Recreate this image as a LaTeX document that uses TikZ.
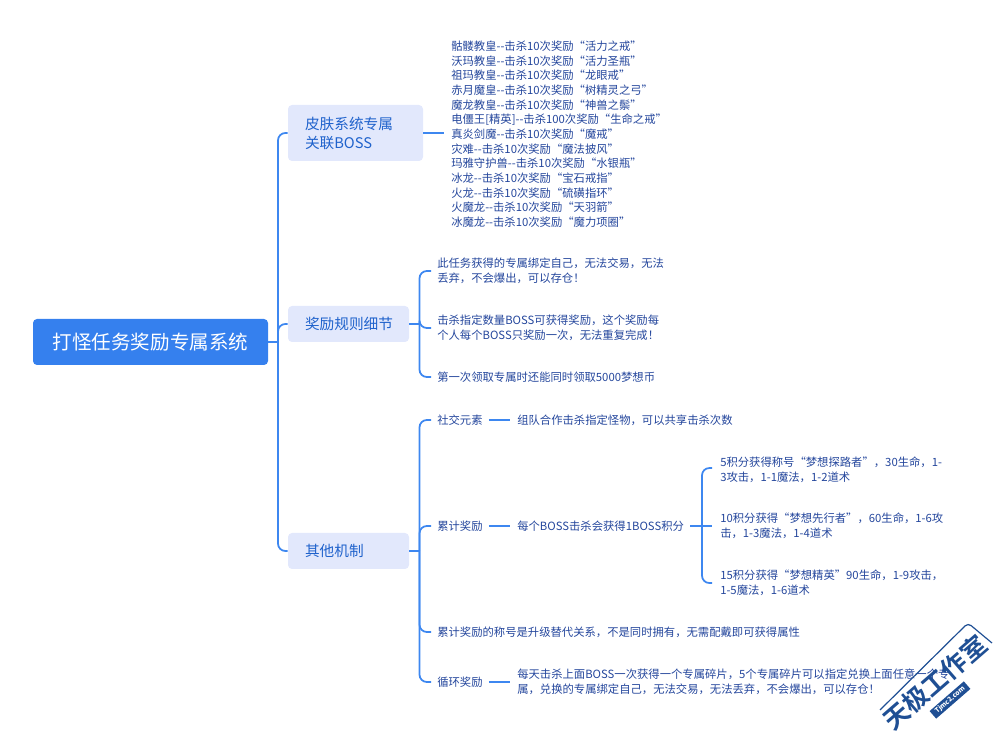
\documentclass[tikz,border=0pt]{standalone}
\usepackage{fontspec}
\setmainfont{Noto Sans CJK SC}
\newfontfamily\wmfont{Noto Sans CJK SC}[BoldFont={Noto Sans CJK SC Bold}]
\definecolor{linec}{HTML}{3D87F0}
\definecolor{rootc}{HTML}{3580EE}
\definecolor{subc}{HTML}{E2E8FC}
\definecolor{subt}{HTML}{1F62CC}
\definecolor{leaft}{HTML}{24469C}
\definecolor{wmc}{HTML}{1F4F94}
\tikzset{
  x=0.75pt,y=-0.75pt,
  conn/.style={draw=linec,line width=1.3pt,rounded corners=5.5pt},
  rootbox/.style={fill=rootc,rounded corners=3pt,text=white,font=\fontsize{14.65}{18}\selectfont,minimum width=176.25pt,minimum height=34.5pt,inner sep=0pt},
  subbox/.style={fill=subc,rounded corners=3pt,text=subt,font=\fontsize{11}{14.25}\selectfont,inner xsep=12.75pt,inner ysep=0pt,minimum height=27pt,align=left},
  leaf/.style={anchor=west,inner sep=0pt,text=leaft,align=left,font=\fontsize{8.5}{11}\selectfont},
}
\begin{document}
\begin{tikzpicture}
\useasboundingbox (0,0) rectangle (1004,741);
% main nodes
\node[rootbox] (root) at (150.5,342) {打怪任务奖励专属系统};
\node[subbox,text width=75.75pt,minimum height=42pt] (skin) at (355.5,133) {皮肤系统专属\\关联BOSS};
\node[subbox,text width=65.25pt] (rule) at (348.5,324) {奖励规则细节};
\node[subbox,text width=65.25pt] (other) at (348.5,551) {其他机制};
% leaves
\node[leaf] (list) at (451,134.2) {骷髅教皇-{}-击杀10次奖励“活力之戒”\\沃玛教皇-{}-击杀10次奖励“活力圣瓶”\\祖玛教皇-{}-击杀10次奖励“龙眼戒”\\赤月魔皇-{}-击杀10次奖励“树精灵之弓”\\魔龙教皇-{}-击杀10次奖励“神兽之鬃”\\电僵王[精英]-{}-击杀100次奖励“生命之戒”\\真炎剑魔-{}-击杀10次奖励“魔戒”\\灾难-{}-击杀10次奖励“魔法披风”\\玛雅守护兽-{}-击杀10次奖励“水银瓶”\\冰龙-{}-击杀10次奖励“宝石戒指”\\火龙-{}-击杀10次奖励“硫磺指环”\\火魔龙-{}-击杀10次奖励“天羽箭”\\冰魔龙-{}-击杀10次奖励“魔力项圈”};
\node[leaf] (r1) at (437,271) {此任务获得的专属绑定自己，无法交易，无法\\丢弃，不会爆出，可以存仓！};
\node[leaf] (r2) at (437,328) {击杀指定数量BOSS可获得奖励，这个奖励每\\个人每个BOSS只奖励一次，无法重复完成！};
\node[leaf] (r3) at (437,377) {第一次领取专属时还能同时领取5000梦想币};
\node[leaf] (o1) at (437,420) {社交元素};
\node[leaf] (o1a) at (517,420) {组队合作击杀指定怪物，可以共享击杀次数};
\node[leaf] (o2) at (437,526) {累计奖励};
\node[leaf] (o2a) at (517,526) {每个BOSS击杀会获得1BOSS积分};
\node[leaf] (t1) at (720,469.5) {5积分获得称号“梦想探路者”，30生命，1-\\3攻击，1-1魔法，1-2道术};
\node[leaf] (t2) at (720,526) {10积分获得“梦想先行者”，60生命，1-6攻\\击，1-3魔法，1-4道术};
\node[leaf] (t3) at (720,582.5) {15积分获得“梦想精英”90生命，1-9攻击，\\1-5魔法，1-6道术};
\node[leaf] (o3) at (437,632) {累计奖励的称号是升级替代关系，不是同时拥有，无需配戴即可获得属性};
\node[leaf] (o4) at (437,682) {循环奖励};
\node[leaf] (o4a) at (517,682) {每天击杀上面BOSS一次获得一个专属碎片，5个专属碎片可以指定兑换上面任意一个专\\属，兑换的专属绑定自己，无法交易，无法丢弃，不会爆出，可以存仓！};
% junction columns
\coordinate (c1) at (278,0);
\coordinate (c2) at (419.5,0);
\coordinate (c3) at (702,0);
\coordinate (e1) at (444,133);
% connectors
\draw[conn] (root.east) -- (root.east -| c1);
\draw[conn] (root.east -| c1) |- (skin.west);
\draw[conn] (root.east -| c1) |- (rule.west);
\draw[conn] (root.east -| c1) |- (other.west);
\draw[conn] (skin.east |- e1) -- (e1);
\draw[conn] (rule.east) -- (rule.east -| c2);
\draw[conn] (rule.east -| c2) |- ([xshift=-4.5pt]r1.west);
\draw[conn] (rule.east -| c2) |- ([xshift=-4.5pt]r2.west);
\draw[conn] (rule.east -| c2) |- ([xshift=-4.5pt]r3.west);
\draw[conn] (other.east) -- (other.east -| c2);
\draw[conn] (other.east -| c2) |- ([xshift=-4.5pt]o1.west);
\draw[conn] (other.east -| c2) |- ([xshift=-4.5pt]o2.west);
\draw[conn] (other.east -| c2) |- ([xshift=-4.5pt]o3.west);
\draw[conn] (other.east -| c2) |- ([xshift=-4.5pt]o4.west);
\draw[conn] ([xshift=4.5pt]o1.east) -- ([xshift=-5.25pt]o1a.west);
\draw[conn] ([xshift=4.5pt]o2.east) -- ([xshift=-5.25pt]o2a.west);
\draw[conn] ([xshift=4.5pt]o4.east) -- ([xshift=-5.25pt]o4a.west);
\draw[conn] ([xshift=4.5pt]o2a.east) -- ([xshift=-6pt]t2.west);
\draw[conn] (o2a.east -| c3) |- ([xshift=-6pt,yshift=1.1pt]t1.west);
\draw[conn] (o2a.east -| c3) |- ([xshift=-6pt,yshift=-0.4pt]t3.west);
% watermark
\draw[wmc,line width=0.9pt,rounded corners=3pt] (880,710) -- (968,623) -- (992,643);
\node[rotate=41,text=wmc,inner sep=0pt,font=\wmfont\bfseries\fontsize{19}{20}\selectfont] (wmt) at (935,682.5) {天极工作室};
\node[rotate=41,fill=wmc,text=white,inner sep=0.6pt,minimum width=34pt,minimum height=7.5pt,font=\bfseries\fontsize{5}{6}\selectfont] (wmb) at (950,700) {Tjmc2.com};
\end{tikzpicture}
\end{document}
